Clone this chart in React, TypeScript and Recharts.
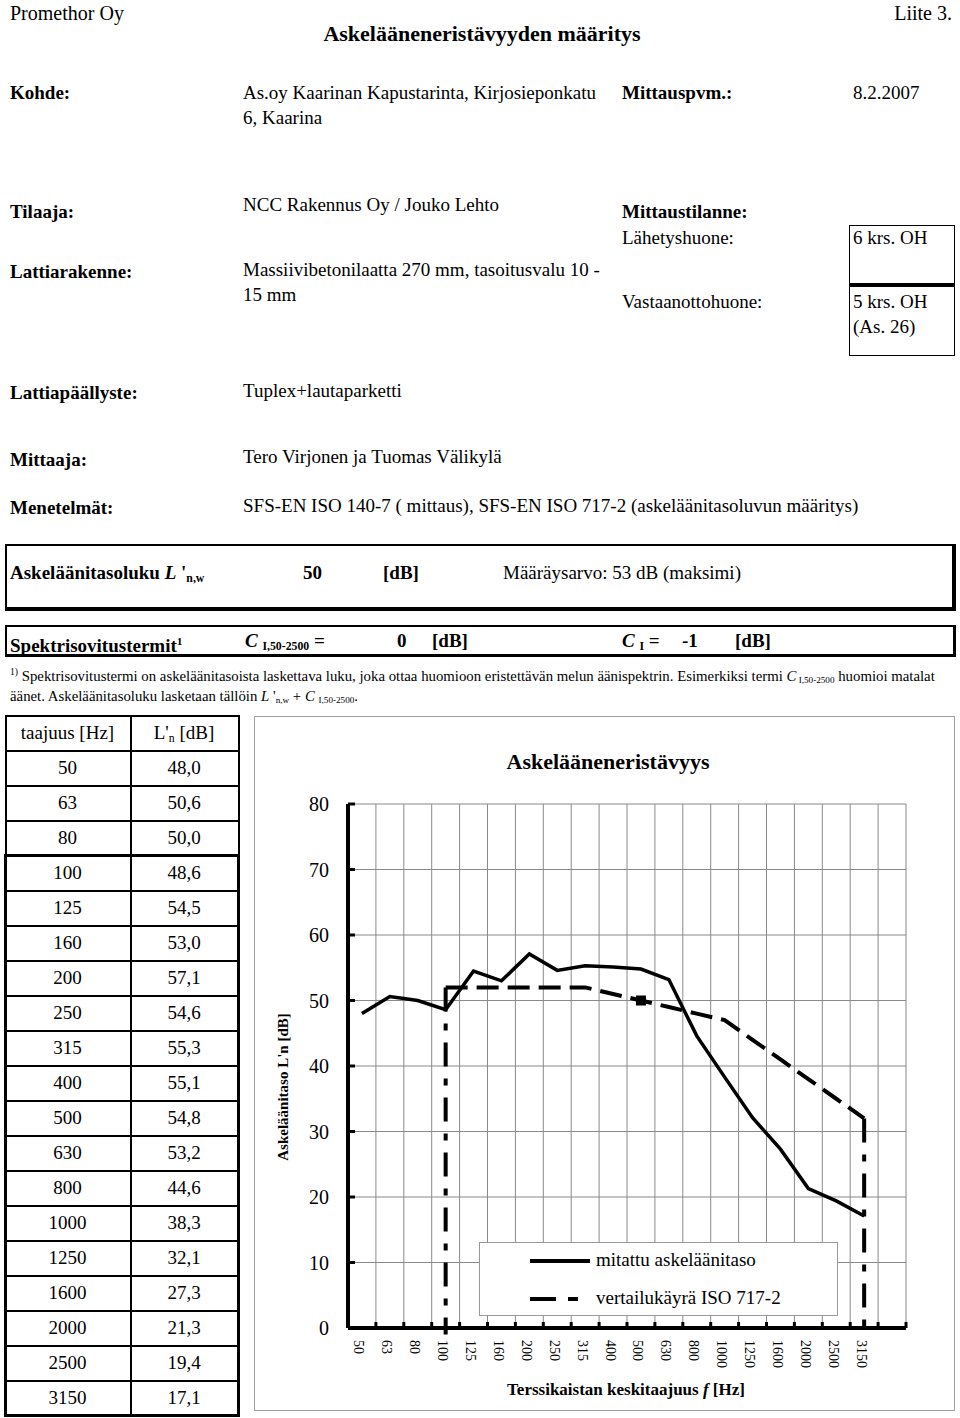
import React from "react";
import { CartesianGrid, Legend, Line, LineChart, ReferenceLine, XAxis, YAxis } from "recharts";

const frequencies = ["50", "63", "80", "100", "125", "160", "200", "250", "315", "400", "500", "630", "800", "1000", "1250", "1600", "2000", "2500", "3150"];
const measuredLevels = [48.0, 50.6, 50.0, 48.6, 54.5, 53.0, 57.1, 54.6, 55.3, 55.1, 54.8, 53.2, 44.6, 38.3, 32.1, 27.3, 21.3, 19.4, 17.1];
const referenceLevels = [null, null, null, 52, 52, 52, 52, 52, 52, 51, 50, 49, 48, 47, 44, 41, 38, 35, 32];
const levelTicks = [0, 10, 20, 30, 40, 50, 60, 70, 80];
const ratingFrequency = "500";
const seriesNames = ["mitattu askeläänitaso", "vertailukäyrä ISO 717-2"];

const SERIF = '"Liberation Serif", "Times New Roman", serif';

// one empty band is left after 3150 Hz
const bandCount = frequencies.length + 1;
const bandEdges = Array.from({ length: bandCount + 1 }, (_, i) => i);
const bandCenters = frequencies.map((_, i) => i + 0.5);
const axisTicks = [...bandEdges, ...bandCenters].sort((a, b) => a - b);

const chartData = frequencies.map((freq, i) => ({
  freq,
  pos: bandCenters[i],
  measured: measuredLevels[i],
  reference: referenceLevels[i],
}));

const firstRef = referenceLevels.findIndex((v) => v !== null);
const lastRef = referenceLevels.length - 1;

function FreqTick(props: any) {
  const { x, y, payload } = props;
  const v = payload.value;
  if (Number.isInteger(v)) {
    return <line x1={x} x2={x} y1={y} y2={y - 6} stroke="#000" strokeWidth={3} />;
  }
  const lx = x - 3;
  const ly = y + 12;
  return (
    <text
      x={lx}
      y={ly}
      transform={`rotate(90 ${lx} ${ly})`}
      textAnchor="start"
      dominantBaseline="central"
      fontSize={14}
      fontFamily={SERIF}
      fill="#000"
    >
      {frequencies[Math.floor(v)]}
    </text>
  );
}

function RatingDot(props: any) {
  const { cx, cy, payload, index } = props;
  if (!payload || payload.freq !== ratingFrequency || cy == null) return <g key={`d${index}`} />;
  return <rect key={`d${index}`} x={cx - 5} y={cy - 5} width={10} height={10} fill="#000" />;
}

function LegendBox({ payload }: any) {
  const items = payload ?? [];
  return (
    <div
      style={{
        width: 359,
        height: 74,
        boxSizing: "border-box",
        border: "1px solid #999",
        background: "#fff",
        position: "relative",
        fontFamily: SERIF,
      }}
    >
      {items.map((entry: any, i: number) => (
        <div key={entry.value} style={{ position: "absolute", left: 0, top: 7 + i * 38, height: 22, width: "100%" }}>
          <svg width={70} height={22} style={{ position: "absolute", left: 50, top: 0 }}>
            <line
              x1={0}
              x2={60}
              y1={11}
              y2={11}
              stroke="#000"
              strokeWidth={4}
              strokeDasharray={i === 0 ? undefined : "26 12 10 40"}
            />
          </svg>
          <span style={{ position: "absolute", left: 116, top: -1, fontSize: 19, lineHeight: "22px", color: "#000" }}>
            {entry.value}
          </span>
        </div>
      ))}
    </div>
  );
}

function Txt({ x, cy, size = 19, bold = false, align = "left", children }: any) {
  const style: React.CSSProperties = {
    position: "absolute",
    top: cy - size * 0.6,
    fontSize: size,
    lineHeight: `${size * 1.2}px`,
    fontWeight: bold ? 700 : 400,
    whiteSpace: "nowrap",
  };
  if (align === "right") style.right = 960 - x;
  else if (align === "center") {
    style.left = x;
    style.transform = "translateX(-50%)";
  } else style.left = x;
  return <div style={style}>{children}</div>;
}

const Sub = ({ children }: any) => (
  <span style={{ fontSize: "0.62em", verticalAlign: "-0.25em" }}>{children}</span>
);

const TABLE_LEFT = 5;
const COL_SPLIT = 130;
const TABLE_RIGHT = 238;
const TABLE_TOP = 715;
const ROW_H = 35;

function LevelTable() {
  const rows = frequencies.length + 1;
  const cells: React.ReactNode[] = [];
  for (let r = 0; r <= rows; r++) {
    cells.push(
      <div
        key={`h${r}`}
        style={{ position: "absolute", left: TABLE_LEFT, top: TABLE_TOP + r * ROW_H, width: TABLE_RIGHT - TABLE_LEFT, height: 1.5, background: "#000" }}
      />
    );
  }
  [TABLE_LEFT, COL_SPLIT, TABLE_RIGHT].forEach((x) =>
    cells.push(
      <div key={`v${x}`} style={{ position: "absolute", left: x, top: TABLE_TOP, width: 1.5, height: rows * ROW_H, background: "#000" }} />
    )
  );
  const cy0 = TABLE_TOP + ROW_H / 2 + 1;
  cells.push(
    <Txt key="hd1" x={(TABLE_LEFT + COL_SPLIT) / 2} cy={cy0} size={19} align="center">
      taajuus [Hz]
    </Txt>
  );
  cells.push(
    <Txt key="hd2" x={(COL_SPLIT + TABLE_RIGHT) / 2} cy={cy0} size={19} align="center">
      L'<Sub>n</Sub> [dB]
    </Txt>
  );
  frequencies.forEach((f, i) => {
    const cy = cy0 + (i + 1) * ROW_H;
    cells.push(
      <Txt key={`f${f}`} x={(TABLE_LEFT + COL_SPLIT) / 2} cy={cy} size={19} align="center">
        {f}
      </Txt>
    );
    cells.push(
      <Txt key={`l${f}`} x={(COL_SPLIT + TABLE_RIGHT) / 2} cy={cy} size={19} align="center">
        {measuredLevels[i].toFixed(1).replace(".", ",")}
      </Txt>
    );
  });
  // thick outline around the rated range (100 Hz and up)
  cells.push(
    <div
      key="thick"
      style={{
        position: "absolute",
        left: TABLE_LEFT - 1,
        top: TABLE_TOP + (firstRef + 1) * ROW_H - 1,
        width: TABLE_RIGHT - TABLE_LEFT + 3,
        height: (rows - firstRef - 1) * ROW_H + 3,
        border: "3px solid #000",
        boxSizing: "border-box",
      }}
    />
  );
  return <>{cells}</>;
}

function StepChart() {
  return (
    <div style={{ position: "absolute", left: 254, top: 716, width: 701, height: 695 }}>
      <LineChart width={701} height={695} data={chartData} margin={{ top: 88, right: 49, bottom: 23, left: 0 }}>
        <CartesianGrid xAxisId="grid" stroke="#8a8a8a" strokeWidth={1} />
        <XAxis xAxisId="grid" orientation="top" type="number" dataKey="pos" domain={[0, bandCount]} ticks={bandEdges} hide />
        <XAxis
          xAxisId="lab"
          type="number"
          dataKey="pos"
          domain={[0, bandCount]}
          ticks={axisTicks}
          interval={0}
          height={60}
          tickLine={false}
          tickSize={0}
          tickMargin={0}
          tick={<FreqTick />}
          axisLine={{ stroke: "#000", strokeWidth: 4 }}
        />
        <YAxis
          type="number"
          domain={[0, 80]}
          ticks={levelTicks}
          interval={0}
          width={94}
          tickSize={-7}
          tickMargin={26}
          axisLine={{ stroke: "#000", strokeWidth: 4 }}
          tickLine={{ stroke: "#000", strokeWidth: 3 }}
          tick={{ fill: "#000", fontSize: 20, fontFamily: SERIF }}
        />
        <ReferenceLine
          xAxisId="lab"
          segment={[
            { x: bandCenters[firstRef], y: referenceLevels[firstRef] },
            { x: bandCenters[firstRef], y: -1 },
          ]}
          ifOverflow="visible"
          stroke="#000"
          strokeWidth={4}
          strokeDasharray="24 12 7 12"
        />
        <ReferenceLine
          xAxisId="lab"
          segment={[
            { x: bandCenters[lastRef], y: referenceLevels[lastRef] },
            { x: bandCenters[lastRef], y: 0 },
          ]}
          ifOverflow="visible"
          stroke="#000"
          strokeWidth={4}
          strokeDasharray="24 12 7 12"
        />
        <Line
          xAxisId="lab"
          type="linear"
          dataKey="measured"
          name={seriesNames[0]}
          stroke="#000"
          strokeWidth={3.5}
          dot={false}
          isAnimationActive={false}
        />
        <Line
          xAxisId="lab"
          type="linear"
          dataKey="reference"
          name={seriesNames[1]}
          stroke="#000"
          strokeWidth={4}
          strokeDasharray="22 9"
          dot={<RatingDot />}
          isAnimationActive={false}
        />
        <Legend
          layout="horizontal"
          verticalAlign="middle"
          align="center"
          wrapperStyle={{ left: 225, top: 526, width: 359, height: 74 }}
          content={<LegendBox />}
        />
      </LineChart>
    </div>
  );
}

export default function App() {
  return (
    <div
      style={{
        position: "absolute",
        left: 0,
        top: 0,
        width: 960,
        height: 1418,
        background: "#fff",
        color: "#000",
        fontFamily: SERIF,
        overflow: "hidden",
      }}
    >
      <Txt x={10} cy={13} size={20}>Promethor Oy</Txt>
      <Txt x={952} cy={13} size={20} align="right">Liite 3.</Txt>
      <Txt x={482} cy={34} size={22} bold align="center">Askelääneneristävyyden määritys</Txt>

      <Txt x={10} cy={93} bold>Kohde:</Txt>
      <Txt x={243} cy={93}>As.oy Kaarinan Kapustarinta, Kirjosieponkatu</Txt>
      <Txt x={243} cy={118}>6, Kaarina</Txt>
      <Txt x={622} cy={93} bold>Mittauspvm.:</Txt>
      <Txt x={853} cy={93}>8.2.2007</Txt>

      <Txt x={10} cy={212} bold>Tilaaja:</Txt>
      <Txt x={243} cy={205}>NCC Rakennus Oy / Jouko Lehto</Txt>
      <Txt x={622} cy={212} bold>Mittaustilanne:</Txt>
      <Txt x={622} cy={238}>Lähetyshuone:</Txt>
      <Txt x={622} cy={302}>Vastaanottohuone:</Txt>
      <div style={{ position: "absolute", left: 849, top: 225, width: 106, height: 60, border: "1px solid #000", borderBottomWidth: 2, boxSizing: "border-box" }} />
      <div style={{ position: "absolute", left: 849, top: 285, width: 106, height: 71, border: "1px solid #000", borderTopWidth: 2, boxSizing: "border-box" }} />
      <Txt x={853} cy={238}>6 krs. OH</Txt>
      <Txt x={853} cy={302}>5 krs. OH</Txt>
      <Txt x={853} cy={327}>(As. 26)</Txt>

      <Txt x={10} cy={272} bold>Lattiarakenne:</Txt>
      <Txt x={243} cy={270}>Massiivibetonilaatta 270 mm, tasoitusvalu 10 -</Txt>
      <Txt x={243} cy={295}>15 mm</Txt>

      <Txt x={10} cy={393} bold>Lattiapäällyste:</Txt>
      <Txt x={243} cy={391}>Tuplex+lautaparketti</Txt>
      <Txt x={10} cy={460} bold>Mittaaja:</Txt>
      <Txt x={243} cy={457}>Tero Virjonen ja Tuomas Välikylä</Txt>
      <Txt x={10} cy={508} bold>Menetelmät:</Txt>
      <Txt x={243} cy={506}>SFS-EN ISO 140-7 ( mittaus), SFS-EN ISO 717-2 (askeläänitasoluvun määritys)</Txt>

      <div style={{ position: "absolute", left: 5, top: 544, width: 951, height: 67, border: "2px solid #000", borderRightWidth: 4, borderBottomWidth: 4, boxSizing: "border-box" }} />
      <Txt x={10} cy={573} bold>
        Askeläänitasoluku <i>L</i> '<Sub>n,w</Sub>
      </Txt>
      <Txt x={303} cy={573} bold>50</Txt>
      <Txt x={383} cy={573} bold>[dB]</Txt>
      <Txt x={503} cy={573}>Määräysarvo: 53 dB (maksimi)</Txt>

      <div style={{ position: "absolute", left: 5, top: 625, width: 951, height: 32, border: "2px solid #000", borderRightWidth: 3, borderBottomWidth: 3, boxSizing: "border-box" }} />
      <Txt x={10} cy={641} bold>
        Spektrisovitustermit<sup style={{ fontSize: "0.6em" }}>1</sup>
      </Txt>
      <Txt x={245} cy={641} bold>
        <i>C</i> <Sub>I,50-2500</Sub> =
      </Txt>
      <Txt x={397} cy={641} bold>0</Txt>
      <Txt x={432} cy={641} bold>[dB]</Txt>
      <Txt x={622} cy={641} bold>
        <i>C</i> <Sub>I</Sub> =
      </Txt>
      <Txt x={682} cy={641} bold>-1</Txt>
      <Txt x={735} cy={641} bold>[dB]</Txt>

      <Txt x={10} cy={672} size={14.8}>
        <sup style={{ fontSize: "0.65em" }}>1)</sup> Spektrisovitustermi on askeläänitasoista laskettava luku, joka ottaa huomioon eristettävän melun äänispektrin. Esimerkiksi termi <i>C</i>
        <Sub> I,50-2500</Sub> huomioi matalat
      </Txt>
      <Txt x={10} cy={697} size={14.8}>
        äänet. Askeläänitasoluku lasketaan tällöin <i>L</i> '<Sub>n,w</Sub> + <i>C</i> <Sub>I,50-2500</Sub>.
      </Txt>

      <LevelTable />

      <div style={{ position: "absolute", left: 254, top: 716, width: 701, height: 695, border: "1.5px solid #a0a0a0", boxSizing: "border-box" }} />
      <StepChart />
      <Txt x={608} cy={762} size={22} bold align="center">Askelääneneristävyys</Txt>
      <div
        style={{
          position: "absolute",
          left: 283,
          top: 1087,
          transform: "translate(-50%, -50%) rotate(-90deg)",
          fontSize: 15,
          fontWeight: 700,
          whiteSpace: "nowrap",
        }}
      >
        Askeläänitaso L'n [dB]
      </div>
      <Txt x={626} cy={1390} size={17} bold align="center">
        Terssikaistan keskitaajuus <i>f</i> [Hz]
      </Txt>
    </div>
  );
}
